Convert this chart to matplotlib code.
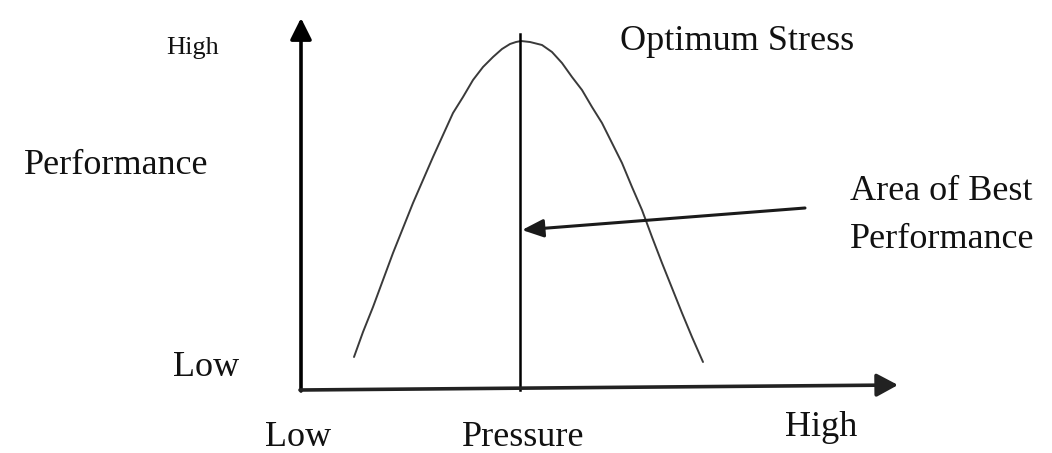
import matplotlib.pyplot as plt

# curve: pressure (x) vs performance (y), origin at axis corner
pressure = [53, 62, 72, 82, 92, 102, 112, 122, 132, 142, 152, 162, 172, 182, 192, 201, 209, 215, 220,
            229, 241, 251, 261, 271, 281, 291, 301, 311, 321, 331, 341, 351, 361, 371, 381, 391, 402]
performance = [33, 58, 83, 110, 137, 162, 187, 210, 233, 255, 277, 293, 310, 323, 333, 341, 346, 348, 349,
               348, 345, 338, 327, 313, 300, 283, 267, 247, 227, 203, 180, 153, 127, 102, 77, 53, 28]

optimum = 219
optimum_top = 356

plt.rcParams['font.family'] = ['Liberation Serif', 'DejaVu Serif']

fig = plt.figure(figsize=(10.52, 4.53), dpi=100)
ax = fig.add_axes([0, 0, 1, 1])
ax.set_xlim(-301, 751)
ax.set_ylim(-63, 390)
ax.axis('off')

# axes with arrow heads
ax.annotate('', xy=(0, 372), xytext=(0, -1),
            arrowprops=dict(arrowstyle='-|>,head_length=1.3,head_width=0.65',
                            mutation_scale=10, lw=2.6, color='black',
                            shrinkA=0, shrinkB=0))
ax.annotate('', xy=(597, 5), xytext=(-1, 0),
            arrowprops=dict(arrowstyle='-|>,head_length=1.3,head_width=0.7',
                            mutation_scale=10, lw=2.6, color='#222222',
                            shrinkA=0, shrinkB=0))

ax.plot(pressure, performance, color='#3a3a3a', lw=1.4, solid_capstyle='round')
ax.plot([optimum, optimum], [0, optimum_top], color='black', lw=1.8)

ax.annotate('', xy=(221, 160), xytext=(504, 182),
            arrowprops=dict(arrowstyle='-|>,head_length=1.3,head_width=0.55',
                            mutation_scale=10, lw=2.2, color='#1a1a1a',
                            shrinkA=0, shrinkB=0))

tc = '#111111'
ax.text(-108, 342, 'High', fontsize=19, ha='center', va='center', color=tc)
ax.text(-185, 224, 'Performance', fontsize=26, ha='center', va='center', color=tc)
ax.text(-95, 22, 'Low', fontsize=26, ha='center', va='center', color=tc)
ax.text(-3, -48, 'Low', fontsize=26, ha='center', va='center', color=tc)
ax.text(222, -48, 'Pressure', fontsize=26, ha='center', va='center', color=tc)
ax.text(520, -38, 'High', fontsize=26, ha='center', va='center', color=tc)
ax.text(436, 348, 'Optimum Stress', fontsize=26, ha='center', va='center', color=tc)
ax.text(549, 198, 'Area of Best', fontsize=26, ha='left', va='center', color=tc)
ax.text(549, 150, 'Performance', fontsize=26, ha='left', va='center', color=tc)

fig.savefig('out.png', dpi=100)
